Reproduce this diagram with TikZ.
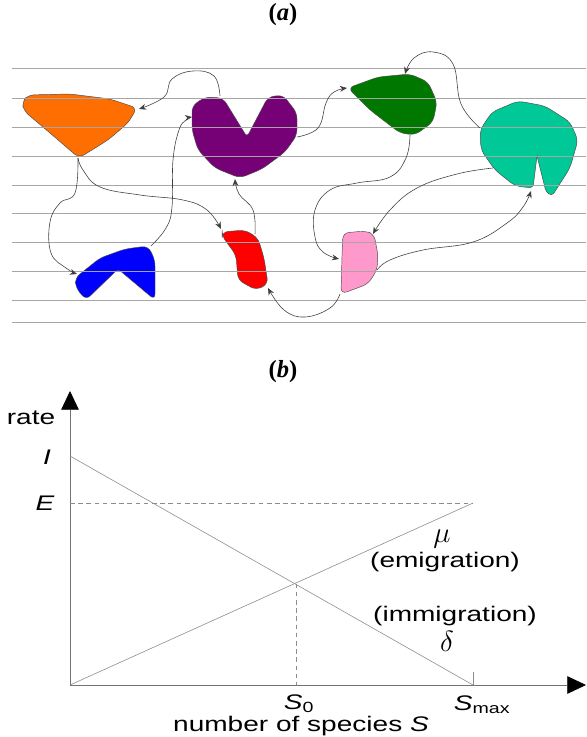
\documentclass[tikz,border=0pt]{standalone}
\usepackage{fontspec}
\setmainfont[FakeStretch=1.33]{Liberation Sans}
\newfontfamily\capfont{Liberation Serif}
\usetikzlibrary{arrows.meta}

\definecolor{islorange}{RGB}{255,110,0}
\definecolor{islpurple}{RGB}{118,0,118}
\definecolor{islgreen}{RGB}{0,120,0}
\definecolor{islteal}{RGB}{0,200,150}
\definecolor{islblue}{RGB}{0,0,255}
\definecolor{islred}{RGB}{255,0,0}
\definecolor{islpink}{RGB}{255,153,204}

\begin{document}
\begin{tikzpicture}[x=0.03cm, y=-0.03cm,
  every node/.style={font=\fontsize{18}{20}\selectfont},
  strip/.style={draw=black!35, line width=0.5pt},
  blob/.style={draw=black!70, line width=0.4pt, rounded corners=5pt},
  link/.style={draw=black!75, line width=0.5pt, -{Stealth[length=6pt,width=5pt]}},
  curve/.style={draw=black!45, line width=0.5pt},
  guide/.style={draw=black!45, line width=0.5pt, dash pattern=on 4pt off 3pt},
  axis/.style={draw=black!55, line width=0.6pt, -{Triangle[length=16pt,width=15pt,color=black]}},
  panellabel/.style={font=\capfont\fontsize{21}{23}\selectfont\bfseries}]

\useasboundingbox (0,0) rectangle (586,737);

% (a) Islands and migration
\begin{scope}
\node[panellabel] (capa) at (283,15) {(\textit{a})};

% Islands
\draw[blob, fill=islorange] (22,102) -- (28,95) -- (70,94) -- (110,99) -- (137,108) -- (128,123) -- (108,140) -- (79,158) -- (50,133) -- (24,111) -- cycle;
\draw[blob, fill=islpurple] (192,106) -- (205,97) -- (223,98) [rounded corners=3pt] -- (247,137) [rounded corners=5pt] -- (268,97) -- (283,95) -- (297,113) -- (297,135) -- (285,152) -- (262,169) -- (240,178) -- (215,168) -- (198,150) -- (192,130) -- cycle;
\draw[blob, fill=islblue] (75,278) -- (100,258) -- (125,249) -- (148,246) -- (155,260) -- (155,300) [rounded corners=3pt] -- (118,269) [rounded corners=5pt] -- (86,300) -- (76,288) -- cycle;
\draw[blob, fill=islred] (222,232) -- (245,230) -- (258,238) -- (264,258) -- (268,284) -- (256,290) -- (238,280) -- (236,255) -- (222,236) -- cycle;
\draw[blob, fill=islgreen] (348,88) -- (378,77) -- (410,74) -- (428,82) -- (437,102) -- (433,122) -- (415,135) -- (400,133) -- (370,110) -- cycle;
\draw[blob, fill=islteal] (480,130) -- (492,112) -- (518,101) -- (545,106) -- (570,122) -- (578,140) -- (570,168) [rounded corners=3pt] -- (552,196) -- (546,192) [sharp corners] -- (537,156) [rounded corners=3pt] -- (533,188) [rounded corners=5pt] -- (515,186) -- (495,170) -- (481,150) -- cycle;
\draw[blob, fill=islpink] (343,233) -- (365,231) -- (374,234) -- (378,255) -- (377,270) -- (368,284) -- (341,294) -- (342,255) -- cycle;

% Lines
\foreach \y in {68,98,127,156,185,213,242,271,300,322}
  \draw[strip] (12,\y) -- (586,\y);

% Connector ends
\coordinate (orng-e) at (139,109);
\coordinate (orng-s) at (78,158);
\coordinate (purp-n) at (220,96);
\coordinate (purp-w) at (192,117);
\coordinate (purp-s) at (235,179);
\coordinate (purp-e) at (297,137);
\coordinate (blue-w) at (77,274);
\coordinate (blue-n) at (151,246);
\coordinate (red-n)  at (221,229);
\coordinate (red-ne) at (255,234);
\coordinate (red-se) at (268,288);
\coordinate (grn-w)  at (347,88);
\coordinate (grn-n)  at (405,74);
\coordinate (grn-s)  at (410,135);
\coordinate (teal-w) at (480,128);
\coordinate (teal-sw) at (493,168);
\coordinate (teal-s) at (531,191);
\coordinate (pink-w) at (339,259);
\coordinate (pink-ne) at (373,234);
\coordinate (pink-e) at (377,270);
\coordinate (pink-s) at (340,294);

% Migration paths
\draw[link] plot[smooth, tension=0.7] coordinates {(purp-n) (214,76) (193,71) (172,79) (164,97) (orng-e)};
\draw[link] plot[smooth, tension=0.7] coordinates {(orng-s) (75,193) (60,203) (50,222) (51,253) (66,268) (blue-w)};
\draw[link] plot[smooth, tension=0.7] coordinates {(orng-s) (83,170) (100,187) (140,195) (183,200) (207,210) (red-n)};
\draw[link] plot[smooth, tension=0.7] coordinates {(blue-n) (166,228) (172,207) (173,160) (179,130) (186,120) (purp-w)};
\draw[link] plot[smooth, tension=0.7] coordinates {(red-ne) (253,210) (239,194) (purp-s)};
\draw[link] plot[smooth, tension=0.7] coordinates {(pink-s) (330,308) (305,317) (284,310) (red-se)};
\draw[link] plot[smooth, tension=0.7] coordinates {(purp-e) (318,128) (326,103) (334,92) (grn-w)};
\draw[link] plot[smooth, tension=0.7] coordinates {(teal-w) (461,104) (453,64) (433,52) (414,58) (grn-n)};
\draw[link] plot[smooth, tension=0.7] coordinates {(grn-s) (406,158) (390,177) (357,183) (330,190) (315,210) (315,237) (323,252) (pink-w)};
\draw[link] plot[smooth, tension=0.7] coordinates {(teal-sw) (457,174) (417,188) (390,210) (pink-ne)};
\draw[link] plot[smooth, tension=0.7] coordinates {(pink-e) (390,260) (423,250) (473,242) (507,223) (523,207) (teal-s)};
\end{scope}

% (b) Equilibrium of rates
\begin{scope}
\node[panellabel] (capb) at (283,372) {(\textit{b})};

\coordinate (O) at (70,685);
\coordinate (ytip) at (70,391);
\coordinate (xtip) at (586,685);
\coordinate (I) at (70,456);
\coordinate (E) at (70,503);
\coordinate (Smax) at (473,685);
\coordinate (Eend) at (473,503);
\coordinate (eq) at (296,583.5);
\coordinate (S0) at (296,685);
\coordinate (tick) at (473,672);

\draw[axis] (O) -- (ytip);
\draw[axis] (O) -- (xtip);
\draw[curve] (I) -- (Smax);
\draw[curve] (O) -- (Eend);
\draw[guide] (E) -- (Eend);
\draw[guide] (eq) -- (S0);
\draw[curve] (Smax) -- (tick);

\node (rate) at (31,418) {rate};
\node (Ilab) at (47,457) {\itshape I};
\node (Elab) at (45,503) {\itshape E};
\node (S0lab) at (299,704) {{\itshape S}\textsubscript{0}};
\node (Smaxlab) at (482,705) {{\itshape S}\textsubscript{max}};
\node (mu) at (442,539) {\fontsize{28}{30}\selectfont$\mu$};
\node (emig) at (445,562) {(emigration)};
\node (immig) at (455,616) {(immigration)};
\node (delta) at (447,641) {\fontsize{28}{30}\selectfont$\delta$};
\node (xlab) at (301,726) {number of species {\itshape S}};
\end{scope}

\end{tikzpicture}
\end{document}
